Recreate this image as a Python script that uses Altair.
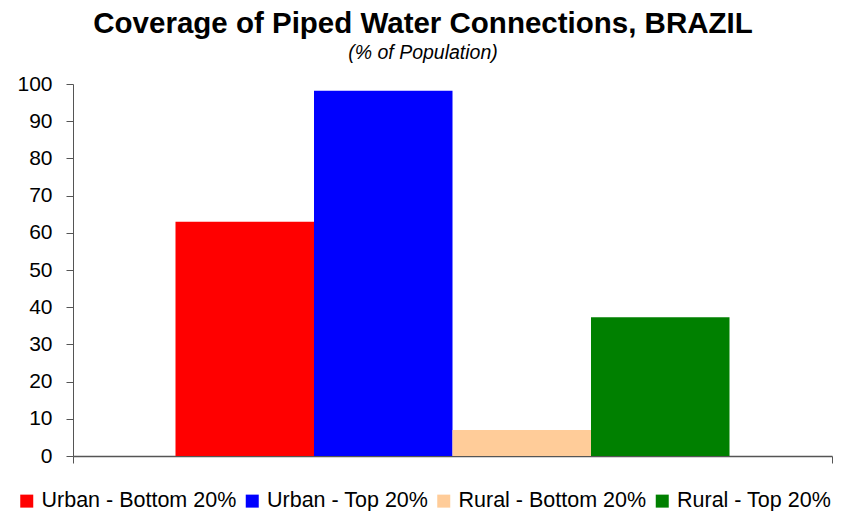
import altair as alt
import pandas as pd

series = ["Urban - Bottom 20%", "Urban - Top 20%", "Rural - Bottom 20%", "Rural - Top 20%"]
values = [63.0, 98.2, 7.0, 37.3]
colors = ["#FF0000", "#0000FF", "#FFCC99", "#008000"]
y_ticks = list(range(0, 101, 10))
x_frame_ticks = [0, 1]

df = pd.DataFrame({"series": series, "value": values})

FONT = "Liberation Sans"
AXIS_COLOR = "#555555"

bars = alt.Chart(df).mark_bar(strokeWidth=0).encode(
    x=alt.X(
        "series:N",
        sort=series,
        scale=alt.Scale(paddingInner=0, paddingOuter=0.74),
        axis=None,
    ),
    y=alt.Y(
        "value:Q",
        scale=alt.Scale(domain=[0, 100], nice=False),
        axis=alt.Axis(
            values=y_ticks,
            title=None,
            grid=False,
            tickSize=7,
            tickColor=AXIS_COLOR,
            domainColor=AXIS_COLOR,
            labelFontSize=21,
            labelColor="#000000",
            labelFont=FONT,
            labelPadding=14,
        ),
    ),
    color=alt.Color(
        "series:N",
        sort=series,
        scale=alt.Scale(domain=series, range=colors),
        legend=alt.Legend(
            title=None,
            orient="none",
            direction="horizontal",
            columns=4,
            legendX=-57,
            legendY=406,
            symbolType="square",
            symbolSize=169,
            symbolStrokeWidth=0,
            symbolOpacity=1,
            labelFontSize=21.5,
            labelFont=FONT,
            labelColor="#000000",
            labelOffset=4,
            labelLimit=0,
            columnPadding=4.5,
        ),
    ),
)

frame = alt.Chart(df).mark_rule(opacity=0).encode(
    x=alt.X(
        datum=0,
        type="quantitative",
        scale=alt.Scale(domain=[0, 1], nice=False),
        axis=alt.Axis(
            values=x_frame_ticks,
            labels=False,
            title=None,
            grid=False,
            tickSize=7,
            tickColor=AXIS_COLOR,
            domainColor=AXIS_COLOR,
            domainWidth=1.5,
        ),
    ),
)

chart = alt.layer(frame, bars).resolve_scale(x="independent").properties(
    width=759,
    height=372,
    autosize=alt.AutoSizeParams(type="none"),
    padding={"left": 65, "top": 76, "right": 3, "bottom": 60},
    title=alt.TitleParams(
        text="Coverage of Piped Water Connections, BRAZIL",
        subtitle="(% of Population)",
        font=FONT,
        fontSize=29.5,
        fontWeight="bold",
        color="#000000",
        subtitleFont=FONT,
        subtitleFontSize=19.5,
        subtitleFontStyle="italic",
        subtitleColor="#000000",
        subtitlePadding=4,
        anchor="middle",
        dx=-29.5,
        offset=10,
    ),
).configure_view(stroke=None)

chart.save("out.html", embed_options={"renderer": "svg", "actions": False})
